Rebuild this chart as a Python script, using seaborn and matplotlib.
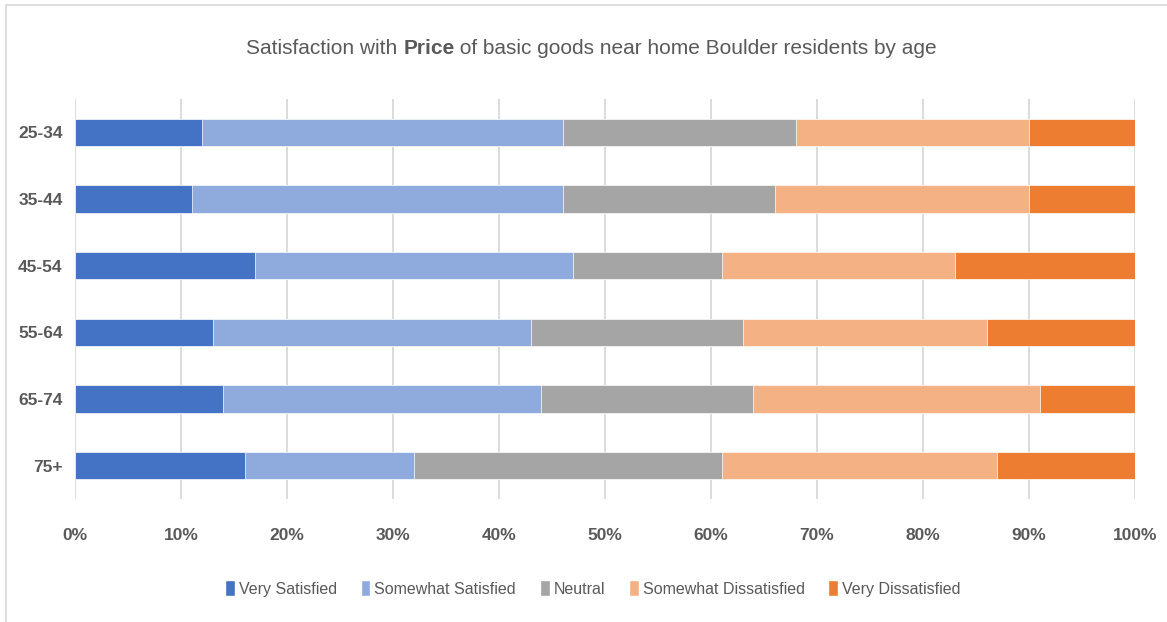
import pandas as pd
import matplotlib.pyplot as plt
import seaborn as sns
from matplotlib.patches import Patch
from matplotlib.lines import Line2D

ages = ["25-34", "35-44", "45-54", "55-64", "65-74", "75+"]
very_satisfied = [12, 11, 17, 13, 14, 16]
somewhat_satisfied = [34, 35, 30, 30, 30, 16]
neutral = [22, 20, 14, 20, 20, 29]
somewhat_dissatisfied = [22, 24, 22, 23, 27, 26]
very_dissatisfied = [10, 10, 17, 14, 9, 13]

series = ["Very Satisfied", "Somewhat Satisfied", "Neutral", "Somewhat Dissatisfied", "Very Dissatisfied"]
colors = ["#4472C4", "#8FAADC", "#A5A5A5", "#F4B183", "#ED7D31"]

sns.set_style("white")
plt.rcParams['font.family'] = ['Liberation Sans', 'DejaVu Sans']

df = pd.DataFrame({"Age": ages, series[0]: very_satisfied, series[1]: somewhat_satisfied,
                   series[2]: neutral, series[3]: somewhat_dissatisfied, series[4]: very_dissatisfied})
cum = df[series].cumsum(axis=1)

fig = plt.figure(figsize=(11.67, 6.22), dpi=100)
ax = fig.add_axes([0.0643, 0.198, 0.9083, 0.643])

# barras apiladas: se dibuja de la mayor acumulada a la menor
for s, c in reversed(list(zip(series, colors))):
    sns.barplot(x=cum[s], y=df["Age"], orient="h", color=c, saturation=1, width=0.41,
                edgecolor="white", linewidth=0.5, ax=ax)

ax.set_xlim(0, 100)
ax.set_ylim(5.5, -0.5)
ax.set_xticks(range(0, 101, 10))
ax.set_xticklabels([f"{v}%" for v in range(0, 101, 10)])
ax.xaxis.grid(True, color="#D9D9D9", linewidth=1.3)
ax.set_axisbelow(True)
ax.set_xlabel("")
ax.set_ylabel("")
sns.despine(ax=ax, left=True, bottom=True)
ax.tick_params(axis="x", length=0, pad=21, labelsize=12.5, labelcolor="#595959")
ax.tick_params(axis="y", length=0, pad=9, labelsize=12.5, labelcolor="#595959")
for lab in ax.get_xticklabels() + ax.get_yticklabels():
    lab.set_fontweight("bold")

handles = [Patch(facecolor=c, label=s) for s, c in zip(series, colors)]
fig.legend(handles=handles, loc="center", bbox_to_anchor=(0.508, 0.054), ncol=5, frameon=False,
           fontsize=11.5, handlelength=0.6, handleheight=1.2, handletextpad=0.25, columnspacing=1.5,
           labelcolor="#595959")

# titulo con "Price" en negrita
parts = [("Satisfaction with ", "normal"), ("Price", "bold"), (" of basic goods near home Boulder residents by age", "normal")]
texts = [fig.text(0, 0.922, t, fontsize=15, fontweight=w, color="#595959", va="center", ha="left") for t, w in parts]
fig.canvas.draw()
r = fig.canvas.get_renderer()
widths = [t.get_window_extent(r).width / fig.bbox.width for t in texts]
x0 = 0.507 - sum(widths) / 2
for t, w in zip(texts, widths):
    t.set_x(x0)
    x0 += w

# marco del grafico (solo arriba e izquierda visibles)
fig.add_artist(Line2D([0.005, 1], [0.992, 0.992], transform=fig.transFigure, color="#D9D9D9", linewidth=1.2))
fig.add_artist(Line2D([0.005, 0.005], [0, 0.992], transform=fig.transFigure, color="#D9D9D9", linewidth=1.2))

plt.savefig("out.png", dpi=100)
